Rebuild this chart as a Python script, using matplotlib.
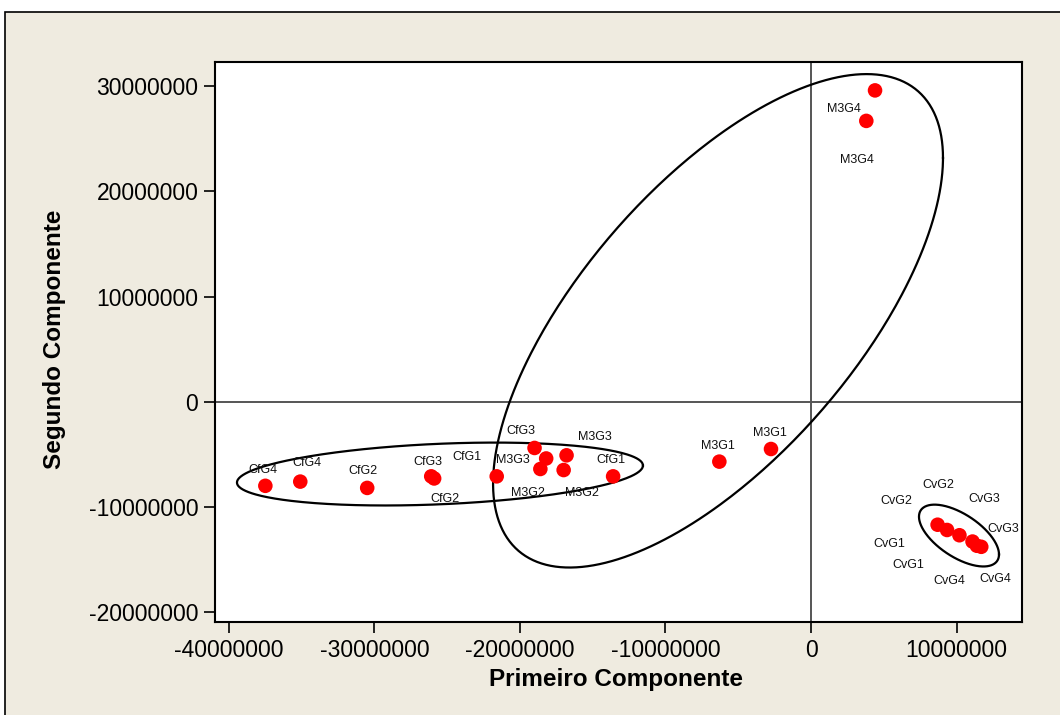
import numpy as np
import matplotlib
matplotlib.use("Agg")
import matplotlib.pyplot as plt
from matplotlib.patches import Rectangle

plt.rcParams['font.family'] = ['Liberation Sans', 'DejaVu Sans']

# scores (data units)
pc1 = [-37.5e6, -35.1e6, -30.5e6, -26.1e6, -25.9e6, -21.6e6,
       -19.0e6, -18.2e6, -18.6e6, -16.8e6, -17.0e6, -13.6e6,
       -6.3e6, -2.75e6, 4.4e6, 3.8e6,
       8.7e6, 9.35e6, 10.2e6, 11.1e6, 11.4e6, 11.7e6]
pc2 = [-8.0e6, -7.6e6, -8.2e6, -7.1e6, -7.3e6, -7.1e6,
       -4.4e6, -5.4e6, -6.4e6, -5.1e6, -6.5e6, -7.1e6,
       -5.7e6, -4.5e6, 29.6e6, 26.7e6,
       -11.7e6, -12.2e6, -12.7e6, -13.3e6, -13.7e6, -13.8e6]

# label texts and where they sit (data units)
lab_txt = ['CfG4', 'CfG4', 'CfG2', 'CfG3', 'CfG1', 'CfG3', 'M3G3', 'M3G3',
           'CfG1', 'CfG2', 'M3G2', 'M3G2', 'M3G1', 'M3G1', 'M3G4', 'M3G4',
           'CvG2', 'CvG2', 'CvG3', 'CvG3', 'CvG1', 'CvG1', 'CvG4', 'CvG4']
lab_x = [-37.66e6, -34.64e6, -30.79e6, -26.32e6, -23.64e6, -19.93e6, -20.48e6, -14.85e6,
         -13.75e6, -25.15e6, -19.45e6, -15.74e6, -6.39e6, -2.82e6, 2.27e6, 3.16e6,
         8.73e6, 5.84e6, 11.89e6, 13.20e6, 5.36e6, 6.67e6, 9.48e6, 12.65e6]
lab_y = [-6.46e6, -5.79e6, -6.55e6, -5.70e6, -5.22e6, -2.75e6, -5.51e6, -3.32e6,
         -5.51e6, -9.21e6, -8.64e6, -8.64e6, -4.18e6, -2.94e6, 27.83e6, 22.98e6,
         -7.88e6, -9.40e6, -9.21e6, -12.06e6, -13.49e6, -15.57e6, -17.09e6, -16.90e6]

# group ellipses: centre x, centre y, half width, half height, phase (deg)
ell_cx = [-25.5e6, -6.39e6, 10.17e6]
ell_cy = [-6.88e6, 7.69e6, -12.73e6]
ell_wx = [13.95e6, 15.46e6, 2.75e6]
ell_wy = [2.99e6, 23.46e6, 2.94e6]
ell_ph = [74.3, 48.7, 127.6]

xticks = [-40000000, -30000000, -20000000, -10000000, 0, 10000000]
yticks = [-20000000, -10000000, 0, 10000000, 20000000, 30000000]

fig = plt.figure(figsize=(10.6, 7.15), dpi=100)
fig.patch.set_facecolor('white')
fig.patches.append(Rectangle((5 / 1060, -0.01), 1.02, 1 - 12 / 715 + 0.01,
                             transform=fig.transFigure, facecolor='#efebe0',
                             edgecolor='black', linewidth=1.2, zorder=-10))

ax = fig.add_axes([215 / 1060, 1 - 622 / 715, 807 / 1060, 560 / 715])
ax.set_facecolor('white')

ax.axhline(0, color='#555555', linewidth=1.4, zorder=1)
ax.axvline(0, color='#555555', linewidth=1.4, zorder=1)

t = np.linspace(0, 2 * np.pi, 400)
for cx, cy, wx, wy, ph in zip(ell_cx, ell_cy, ell_wx, ell_wy, ell_ph):
    ax.plot(cx + wx * np.cos(t), cy + wy * np.cos(t - np.radians(ph)),
            color='black', linewidth=1.6, zorder=2)

ax.scatter(pc1, pc2, s=110, color='#ff0000', edgecolors='none', zorder=3)

for s, x, y in zip(lab_txt, lab_x, lab_y):
    ax.text(x, y, s, fontsize=9, ha='center', va='center', color='#111111', zorder=4)

ax.set_xlim(-40.96e6, 14.5e6)
ax.set_ylim(-20.95e6, 32.3e6)
ax.set_xticks(xticks)
ax.set_yticks(yticks)
ax.set_xticklabels([str(v) for v in xticks])
ax.set_yticklabels([str(v) for v in yticks])
ax.tick_params(direction='out', length=8, width=1.2, labelsize=16.5, pad=4)

for sp in ax.spines.values():
    sp.set_linewidth(1.5)

ax.set_xlabel('Primeiro Componente', fontsize=17.5, fontweight='bold')
ax.set_ylabel('Segundo Componente', fontsize=17.5, fontweight='bold')
ax.xaxis.set_label_coords(0.497, -0.082)
ax.yaxis.set_label_coords(-0.1846, 0.505)

fig.savefig('out.png', dpi=100)
